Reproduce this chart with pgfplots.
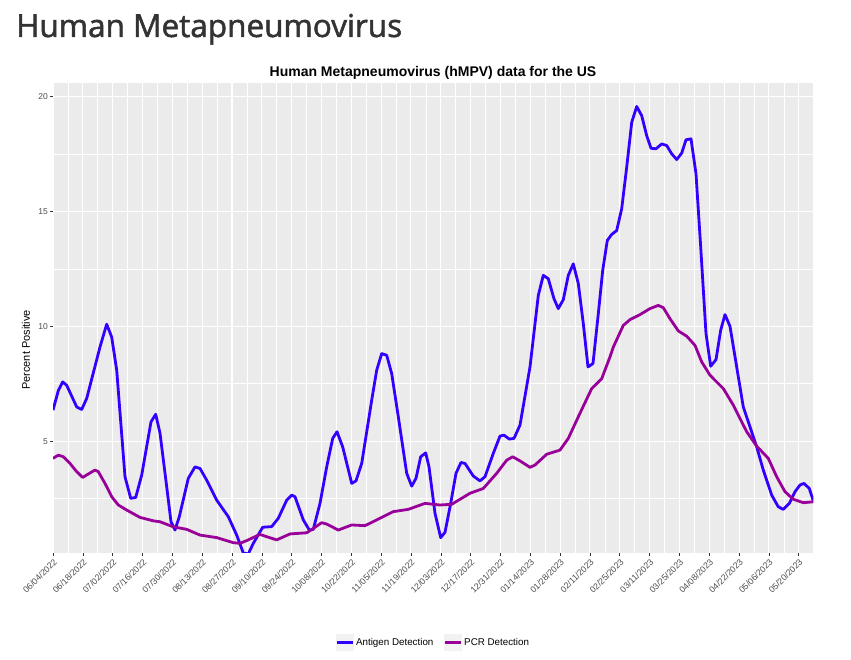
\documentclass[border=0pt]{standalone}
\usepackage{pgfplots}
\pgfplotsset{compat=1.18}
\usepackage{fontspec}
\setmainfont{Liberation Sans}
\newfontfamily\titlefont{Open Sans}[FakeBold=1.6]
\definecolor{panelgray}{HTML}{EBEBEB}
\definecolor{tickgray}{HTML}{333333}
\definecolor{labelgray}{HTML}{4D4D4D}
\definecolor{titlegray}{HTML}{333333}
\definecolor{antigen}{RGB}{51,0,255}
\definecolor{pcr}{RGB}{153,0,153}
\definecolor{keybg}{HTML}{F2F2F2}
\begin{document}
\begin{tikzpicture}
\path[use as bounding box] (0pt,0pt) rectangle (851pt,660pt);
\node[anchor=base west, font=\titlefont\fontsize{31.5}{36}\selectfont, text=titlegray, inner sep=0pt] at (16pt,623pt) {Human Metapneumovirus};
\node[anchor=base, font=\bfseries\fontsize{14}{16}\selectfont, inner sep=0pt] at (433pt,583.5pt) {Human Metapneumovirus (hMPV) data for the US};
\node[rotate=90, anchor=center, font=\fontsize{11}{13}\selectfont, inner sep=0pt] at (26pt,310pt) {Percent Positive};
\begin{axis}[
  at={(53pt,107pt)}, anchor=south west,
  scale only axis, width=760.3pt, height=469.7pt,
  xmin=0, xmax=356.85, ymin=0.13, ymax=20.58,
  axis background/.style={fill=panelgray},
  axis line style={draw=none},
  xtick={0,14,...,350},
  xticklabels={06/04/2022,06/18/2022,07/02/2022,07/16/2022,07/30/2022,08/13/2022,08/27/2022,09/10/2022,09/24/2022,10/08/2022,10/22/2022,11/05/2022,11/19/2022,12/03/2022,12/17/2022,12/31/2022,01/14/2023,01/28/2023,02/11/2023,02/25/2023,03/11/2023,03/25/2023,04/08/2023,04/22/2023,05/06/2023,05/20/2023},
  minor xtick={7,21,...,357},
  ytick={5,10,15,20}, minor ytick={2.5,7.5,12.5,17.5},
  grid=both,
  major grid style={white, line width=1.1pt},
  minor grid style={white, line width=0.55pt},
  tick style={color=tickgray, line width=0.5pt},
  major tick length=3pt, minor tick length=0pt,
  tick align=outside, xtick pos=bottom, ytick pos=left,
  /pgf/number format/assume math mode=true,
  xticklabel style={rotate=45, anchor=north east, font=\fontsize{8.7}{10}\selectfont, text=labelgray, inner sep=1.5pt},
  yticklabel style={font=\fontsize{8.5}{10}\selectfont, text=labelgray, inner sep=2pt},
  legend style={at={(0.5,-0.19)}, anchor=center, draw=none, fill=none, font=\fontsize{9.8}{11}\selectfont, legend columns=2, /tikz/every even column/.append style={column sep=8pt}},
  legend image code/.code={\fill[keybg, draw=none] (-1pt,-8.5pt) rectangle (17pt,8.5pt); \draw (0pt,0pt) -- (16pt,0pt);},
  clip=true,
]
\addplot[antigen, line width=2.8pt, line join=round] coordinates {
(0,6.35) (2.5,7.2) (4.55,7.58) (6.43,7.43) (11.12,6.49) (13.47,6.38) (15.82,6.86) (22.06,9.1) (25.2,10.09) (27.55,9.53) (29.9,8.09) (33.79,3.45) (36.47,2.51) (38.82,2.55) (41.63,3.52) (46.0,5.84) (48.2,6.17) (50.22,5.35) (53.37,3.01) (55.38,1.49) (57.26,1.13) (59.28,1.71) (63.5,3.38) (66.65,3.88) (69.0,3.81) (72.14,3.3) (76.83,2.43) (82.28,1.71) (86.22,0.91) (89.32,0.13) (91.66,0.09) (94.01,0.55) (98.42,1.25) (102.65,1.28) (105.74,1.64) (109.69,2.43) (112.03,2.65) (113.58,2.58) (117.48,1.57) (120.3,1.13) (122.17,1.16) (125.32,2.29) (128.46,3.88) (131.28,5.12) (133.3,5.41) (135.97,4.75) (140.2,3.16) (142.21,3.27) (144.89,4.03) (149.58,6.78) (151.93,8.09) (154.27,8.81) (156.62,8.74) (158.97,7.94) (162.07,6.06) (166.01,3.6) (168.36,3.04) (170.37,3.38) (172.58,4.32) (174.93,4.49) (176.48,3.88) (179.29,1.86) (181.97,0.8) (183.99,1.03) (186.66,2.29) (189.15,3.6) (191.5,4.07) (193.37,4.03) (197.27,3.48) (200.41,3.27) (202.76,3.45) (206.66,4.47) (209.8,5.22) (211.68,5.26) (214.17,5.09) (216.37,5.12) (219.19,5.7) (223.88,8.23) (227.78,11.35) (230.12,12.22) (232.47,12.07) (235.14,11.2) (237.16,10.77) (239.51,11.16) (241.86,12.22) (244.2,12.72) (246.55,11.86) (248.9,10.12) (251.1,8.23) (253.45,8.38) (255.94,10.55) (258.0,12.43) (260.16,13.74) (262.23,14.0) (264.57,14.17) (266.92,15.12) (269.27,16.93) (271.62,18.88) (273.96,19.57) (276.31,19.17) (278.66,18.3) (280.68,17.75) (283.02,17.73) (285.7,17.94) (288.04,17.87) (290.39,17.51) (292.74,17.26) (295.08,17.54) (297.1,18.12) (299.45,18.16) (301.79,16.64) (304.0,13.45) (306.49,9.68) (308.69,8.26) (311.18,8.55) (313.38,9.83) (315.4,10.51) (317.75,10.0) (320.89,8.23) (323.99,6.49) (327.14,5.62) (330.28,4.75) (333.38,3.74) (337.32,2.65) (340.42,2.14) (342.77,2.03) (345.58,2.29) (348.26,2.8) (350.61,3.09) (352.48,3.16) (354.97,2.94) (356.85,2.4)
};
\addlegendentry{Antigen Detection}
\addplot[pcr, line width=2.8pt, line join=round] coordinates {
(0,4.25) (2.49,4.39) (4.83,4.32) (7.98,4.03) (11.12,3.67) (13.94,3.42) (16.57,3.57) (19.71,3.74) (21.26,3.67) (24.41,3.16) (27.55,2.58) (30.65,2.22) (34.59,2.0) (40.83,1.68) (47.08,1.53) (50.22,1.49) (56.46,1.27) (62.75,1.16) (69.0,0.91) (76.83,0.8) (84.62,0.58) (87.77,0.55) (90.91,0.67) (97.16,0.94) (100.3,0.84) (105.0,0.7) (111.24,0.96) (119.07,1.01) (122.17,1.2) (126.11,1.45) (128.46,1.39) (133.9,1.13) (140.2,1.35) (146.44,1.32) (151.93,1.57) (159.72,1.93) (166.76,2.03) (174.6,2.29) (181.64,2.22) (187.13,2.25) (195.72,2.73) (201.96,2.94) (208.25,3.6) (212.94,4.17) (215.76,4.32) (219.19,4.14) (223.88,3.86) (226.23,3.96) (231.72,4.43) (237.96,4.61) (241.86,5.12) (246.55,6.06) (252.84,7.29) (257.53,7.72) (261.43,8.67) (263.0,9.1) (267.67,10.04) (270.82,10.29) (275.51,10.51) (280.2,10.77) (284.1,10.91) (286.45,10.81) (289.59,10.33) (293.48,9.8) (297.43,9.57) (301.32,9.17) (304.47,8.45) (308.36,7.87) (314.6,7.29) (319.29,6.57) (325.58,5.41) (330.28,4.78) (335.72,4.25) (339.66,3.45) (343.56,2.8) (347.46,2.47) (352.15,2.32) (356.85,2.36)
};
\addlegendentry{PCR Detection}
\end{axis}
\end{tikzpicture}
\end{document}
